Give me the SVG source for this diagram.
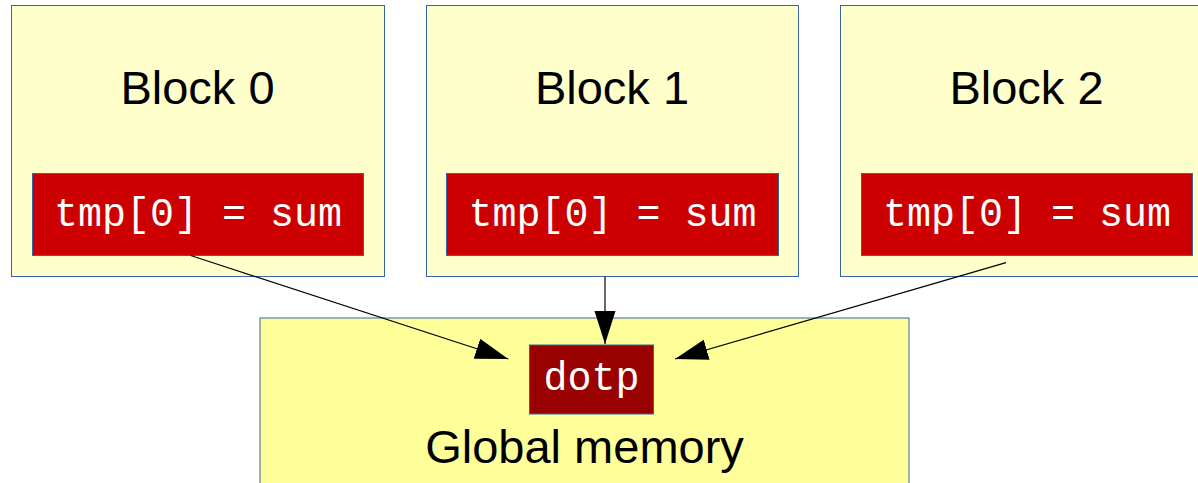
<svg xmlns="http://www.w3.org/2000/svg" width="1198" height="483" viewBox="0 0 1198 483">
  <style>
    .block { fill: #ffffcc; stroke: #3465a4; stroke-width: 1; }
    .global { fill: #ffff99; stroke: #3465a4; stroke-width: 1; }
    .var { fill: #cc0000; stroke: #3465a4; stroke-width: 1; }
    .result { fill: #990000; stroke: #3465a4; stroke-width: 1; }
    .title { font-family: "Liberation Sans", Arial, sans-serif; font-size: 47px; fill: #000000; text-anchor: middle; }
    .code { font-family: "Liberation Mono", "Courier New", monospace; font-size: 40px; fill: #ffffff; text-anchor: middle; }
    .edge { stroke: #000000; stroke-width: 1.2; fill: none; marker-end: url(#arrow); }
  </style>
  <defs>
    <marker id="arrow" markerUnits="userSpaceOnUse" markerWidth="34" markerHeight="22" refX="33" refY="10.5" orient="auto">
      <path d="M0,0 L33,10.5 L0,21 Z" fill="#000000"/>
    </marker>
  </defs>

  <rect width="1198" height="483" fill="#ffffff"/>

  <!-- Global memory holding the dot product result -->
  <g id="global-memory">
    <rect class="global" x="260" y="318" width="649" height="180"/>
    <text class="title" x="584.5" y="463">Global memory</text>
  </g>
  <g id="dotp">
    <rect class="result" x="529.5" y="345" width="124" height="69"/>
    <text class="code" x="591.5" y="390">dotp</text>
  </g>

  <!-- Thread blocks -->
  <g id="block0">
    <rect class="block" x="11.5" y="5.5" width="373" height="271"/>
    <text class="title" x="197.5" y="104">Block 0</text>
    <rect class="var" x="32.5" y="173.5" width="331" height="82"/>
    <text class="code" x="198" y="226">tmp[0] = sum</text>
  </g>
  <g id="block1">
    <rect class="block" x="426.5" y="5.5" width="372" height="271"/>
    <text class="title" x="612" y="104">Block 1</text>
    <rect class="var" x="446.5" y="173.5" width="332" height="82"/>
    <text class="code" x="612.5" y="226">tmp[0] = sum</text>
  </g>
  <g id="block2">
    <rect class="block" x="840.5" y="5.5" width="373" height="271"/>
    <text class="title" x="1026.5" y="104">Block 2</text>
    <rect class="var" x="861.5" y="173.5" width="331" height="82"/>
    <text class="code" x="1027" y="226">tmp[0] = sum</text>
  </g>

  <!-- Connectors: each block writes its partial sum to dotp -->
  <g id="connectors">
    <line class="edge" x1="190.7" y1="255.5" x2="508.3" y2="359"/>
    <line class="edge" x1="605" y1="276.5" x2="605" y2="344"/>
    <line class="edge" x1="1006" y1="262.7" x2="675" y2="359"/>
  </g>
</svg>
